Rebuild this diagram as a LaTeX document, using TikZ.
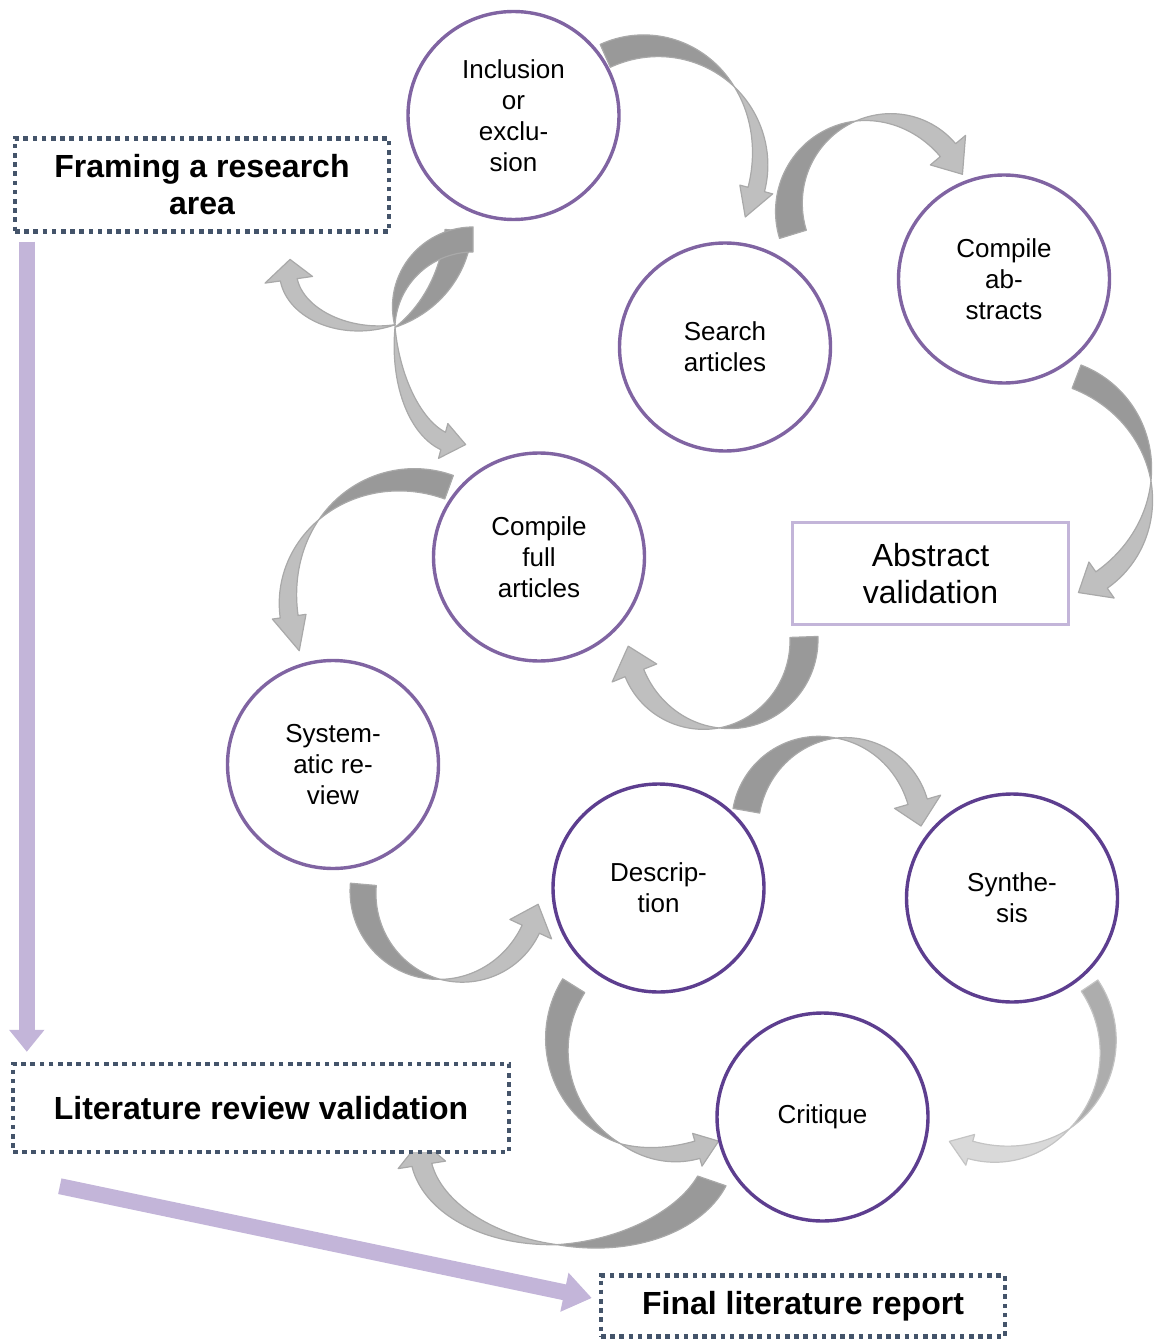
\documentclass[tikz,border=0pt]{standalone}
\usepackage{fontspec}
\setmainfont{Liberation Sans}
\usetikzlibrary{shapes.geometric,arrows.meta,calc}

\definecolor{ringA}{HTML}{8064A2}
\definecolor{ringB}{HTML}{5D3E8F}
\definecolor{boxdot}{HTML}{44546A}
\definecolor{lav}{HTML}{C3B5D9}
\definecolor{bandDark}{HTML}{999999}
\definecolor{bandLight}{HTML}{BFBFBF}
\definecolor{bandEdge}{HTML}{A9A9A9}
\definecolor{paleDark}{HTML}{ADADAD}
\definecolor{paleLight}{HTML}{D9D9D9}
\definecolor{paleEdge}{HTML}{C4C4C4}

% parameter readers for the twisted ribbon arrows
\def\twsetE#1,#2,#3,#4\relax{\def\twcx{#1}\def\twcy{#2}\def\twrx{#3}\def\twry{#4}}
\def\twsetB#1,#2,#3\relax{\def\twa{#1}\def\twb{#2}\def\tww{#3}}
\def\twsetF#1,#2,#3,#4,#5\relax{\def\twa{#1}\def\twb{#2}\def\twc{#3}\def\tww{#4}\def\twh{#5}}

% back (shaded) half of a ribbon: full width at the tail, pinched at the twist
% #1 = cx,cy,rx,ry   #2 = tail angle, twist angle, width   #3 = style
\newcommand\backband[3]{%
  \twsetE#1\relax\twsetB#2\relax
  \filldraw[#3] plot[domain=\twa:\twb, samples=40, variable=\x]
    ({\twcx+(\twrx+0.5*\tww*cos(90*(\x-(\twa))/(\twb-(\twa))))*cos(\x)},
     {\twcy-(\twry+0.5*\tww*cos(90*(\x-(\twa))/(\twb-(\twa))))*sin(\x)})
    -- plot[domain=\twb:\twa, samples=40, variable=\x]
    ({\twcx+(\twrx-0.5*\tww*cos(90*(\x-(\twa))/(\twb-(\twa))))*cos(\x)},
     {\twcy-(\twry-0.5*\tww*cos(90*(\x-(\twa))/(\twb-(\twa))))*sin(\x)})
    -- cycle;}

% front half of a ribbon: grows from the twist and ends in a head
% #1 = cx,cy,rx,ry   #2 = twist angle, head base angle, tip angle, width, head half width
\newcommand\frontband[3]{%
  \twsetE#1\relax\twsetF#2\relax
  \filldraw[#3] plot[domain=\twa:\twb, samples=40, variable=\x]
    ({\twcx+(\twrx+0.5*\tww*sin(90*(\x-(\twa))/(\twb-(\twa))))*cos(\x)},
     {\twcy-(\twry+0.5*\tww*sin(90*(\x-(\twa))/(\twb-(\twa))))*sin(\x)})
    -- ({\twcx+(\twrx+\twh)*cos(\twb)},{\twcy-(\twry+\twh)*sin(\twb)})
    -- ({\twcx+\twrx*cos(\twc)},{\twcy-\twry*sin(\twc)})
    -- ({\twcx+(\twrx-\twh)*cos(\twb)},{\twcy-(\twry-\twh)*sin(\twb)})
    -- plot[domain=\twb:\twa, samples=40, variable=\x]
    ({\twcx+(\twrx-0.5*\tww*sin(90*(\x-(\twa))/(\twb-(\twa))))*cos(\x)},
     {\twcy-(\twry-0.5*\tww*sin(90*(\x-(\twa))/(\twb-(\twa))))*sin(\x)})
    -- cycle;}

\tikzset{
  ring/.style={ellipse, draw=ringA, fill=white, line width=1.7pt,
    minimum width=105.5pt, minimum height=104pt, inner sep=0pt, align=center,
    font=\fontsize{13pt}{15.5pt}\selectfont},
  ringdark/.style={ring, draw=ringB},
  dotbox/.style={rectangle, draw=boxdot, fill=white, line width=2.2pt,
    dash pattern=on 2.3pt off 2.3pt, inner sep=0pt, align=center,
    font=\fontsize{16pt}{18.5pt}\selectfont\bfseries},
  validbox/.style={rectangle, draw=lav, fill=white, line width=1.5pt, inner sep=0pt,
    align=center, font=\fontsize{16pt}{18.5pt}\selectfont},
  flow/.style={draw=lav, line width=8pt, line cap=butt},
  back/.style={fill=bandDark, draw=bandEdge, line width=0.6pt, line join=round},
  front/.style={fill=bandLight, draw=bandEdge, line width=0.6pt, line join=round},
  paleback/.style={fill=paleDark, draw=paleEdge, line width=0.6pt, line join=round},
  palefront/.style={fill=paleLight, draw=paleEdge, line width=0.6pt, line join=round},
}

\begin{document}
\begin{tikzpicture}[x=0.5pt, y=-0.5pt]
\useasboundingbox (0,0) rectangle (1163,1342);

% ---- twisted ribbon arrows between the steps ----
% inclusion -> search
\backband{650,160,110,114}{114,40,25}{back}
\frontband{650,160,110,114}{40,-15,-30,17,17}{front}
% search -> compile abstracts
\backband{879,208,90,90}{197,105,28}{back}
\frontband{879,208,90,90}{105,40,22,20,23}{front}
% compile abstracts -> abstract validation
\backband{1035,485,116,116}{69,2,25}{back}
\frontband{1035,485,116,116}{2,-55,-68,20,22}{front}
% abstract validation -> compile full articles
\backband{716,640,88,88}{2,-88,28}{back}
\frontband{716,640,88,88}{-88,-158,-176,20,24}{front}
% compile full articles -> systematic review
\backband{408,600,120,120}{70,138,25}{back}
\frontband{408,600,120,120}{138,188,205,18,17}{front}
% systematic review -> description
\backband{451,892,88,88}{175,263,26}{back}
\frontband{451,892,88,88}{263,335,352,19,23}{front}
% description -> synthesis
\backband{833,826,88,88}{170,88,27}{back}
\frontband{833,826,88,88}{88,16,0,20,24}{front}
% description -> critique
\backband{667,1044,110,110}{148,245,26}{back}
\frontband{667,1044,110,110}{245,286,298,18,17}{front}
% synthesis -> critique
\backband{1000,1046,108,108}{34,-50,20}{paleback}
\frontband{1000,1046,108,108}{-50,-106,-118,18,16}{palefront}
% critique -> literature review validation
\backband{570,1150,150,95}{-19,-95,30}{back}
\frontband{570,1150,150,95}{-95,-171,-186,20,24}{front}
% inclusion -> framing
\backband{337,220,122,122}{-5,-61.5,27}{back}
\frontband{368,272,80,56}{-70,-172,-193,17,24}{front}
% framing -> compile full articles
\backband{473,318,78.5,78.5}{90,186,25}{back}
\frontband{460,327,65,118}{180,255,275,18,18}{front}

% ---- steps ----
\node[ring] (inc) at (513.5,115.5) {Inclusion\\or\\exclu-\\sion};
\node[ring] (search) at (725,347) {Search\\articles};
\node[ring] (cabs) at (1004,279) {Compile\\ab-\\stracts};
\node[ring] (cfull) at (539,557) {Compile\\full\\articles};
\node[ring] (sysrev) at (333,764.5) {System-\\atic re-\\view};
\node[ringdark] (desc) at (658.5,888) {Descrip-\\tion};
\node[ringdark] (synth) at (1012,898) {Synthe-\\sis};
\node[ringdark] (crit) at (822.5,1117) {Critique};

% ---- stage boxes ----
\node[dotbox, minimum width=187pt, minimum height=46.5pt] (frame) at (202,185) {Framing a research\\area};
\node[validbox, minimum width=138pt, minimum height=51pt] (absval) at (930.5,573.5) {Abstract\\validation};
\node[dotbox, minimum width=248pt, minimum height=44pt] (litrev) at (261,1108) {Literature review validation};
\node[dotbox, minimum width=202pt, minimum height=30.5pt] (final) at (803,1306) {Final literature report};

% ---- stage flow ----
\coordinate (vTop) at ($(frame.south west)+(14,8)$);
\coordinate (vEnd) at ($(vTop |- litrev.north)+(0,-10)$);
\draw[flow, -{Triangle[length=11pt,width=17pt]}] (vTop) -- (vEnd);
\coordinate (dTop) at ($(litrev.south west)+(49,32)$);
\coordinate (dEnd) at ($(final.west)+(-7,-8)$);
\draw[flow, -{Triangle[length=14pt,width=19pt]}] (dTop) -- (dEnd);
\end{tikzpicture}
\end{document}
